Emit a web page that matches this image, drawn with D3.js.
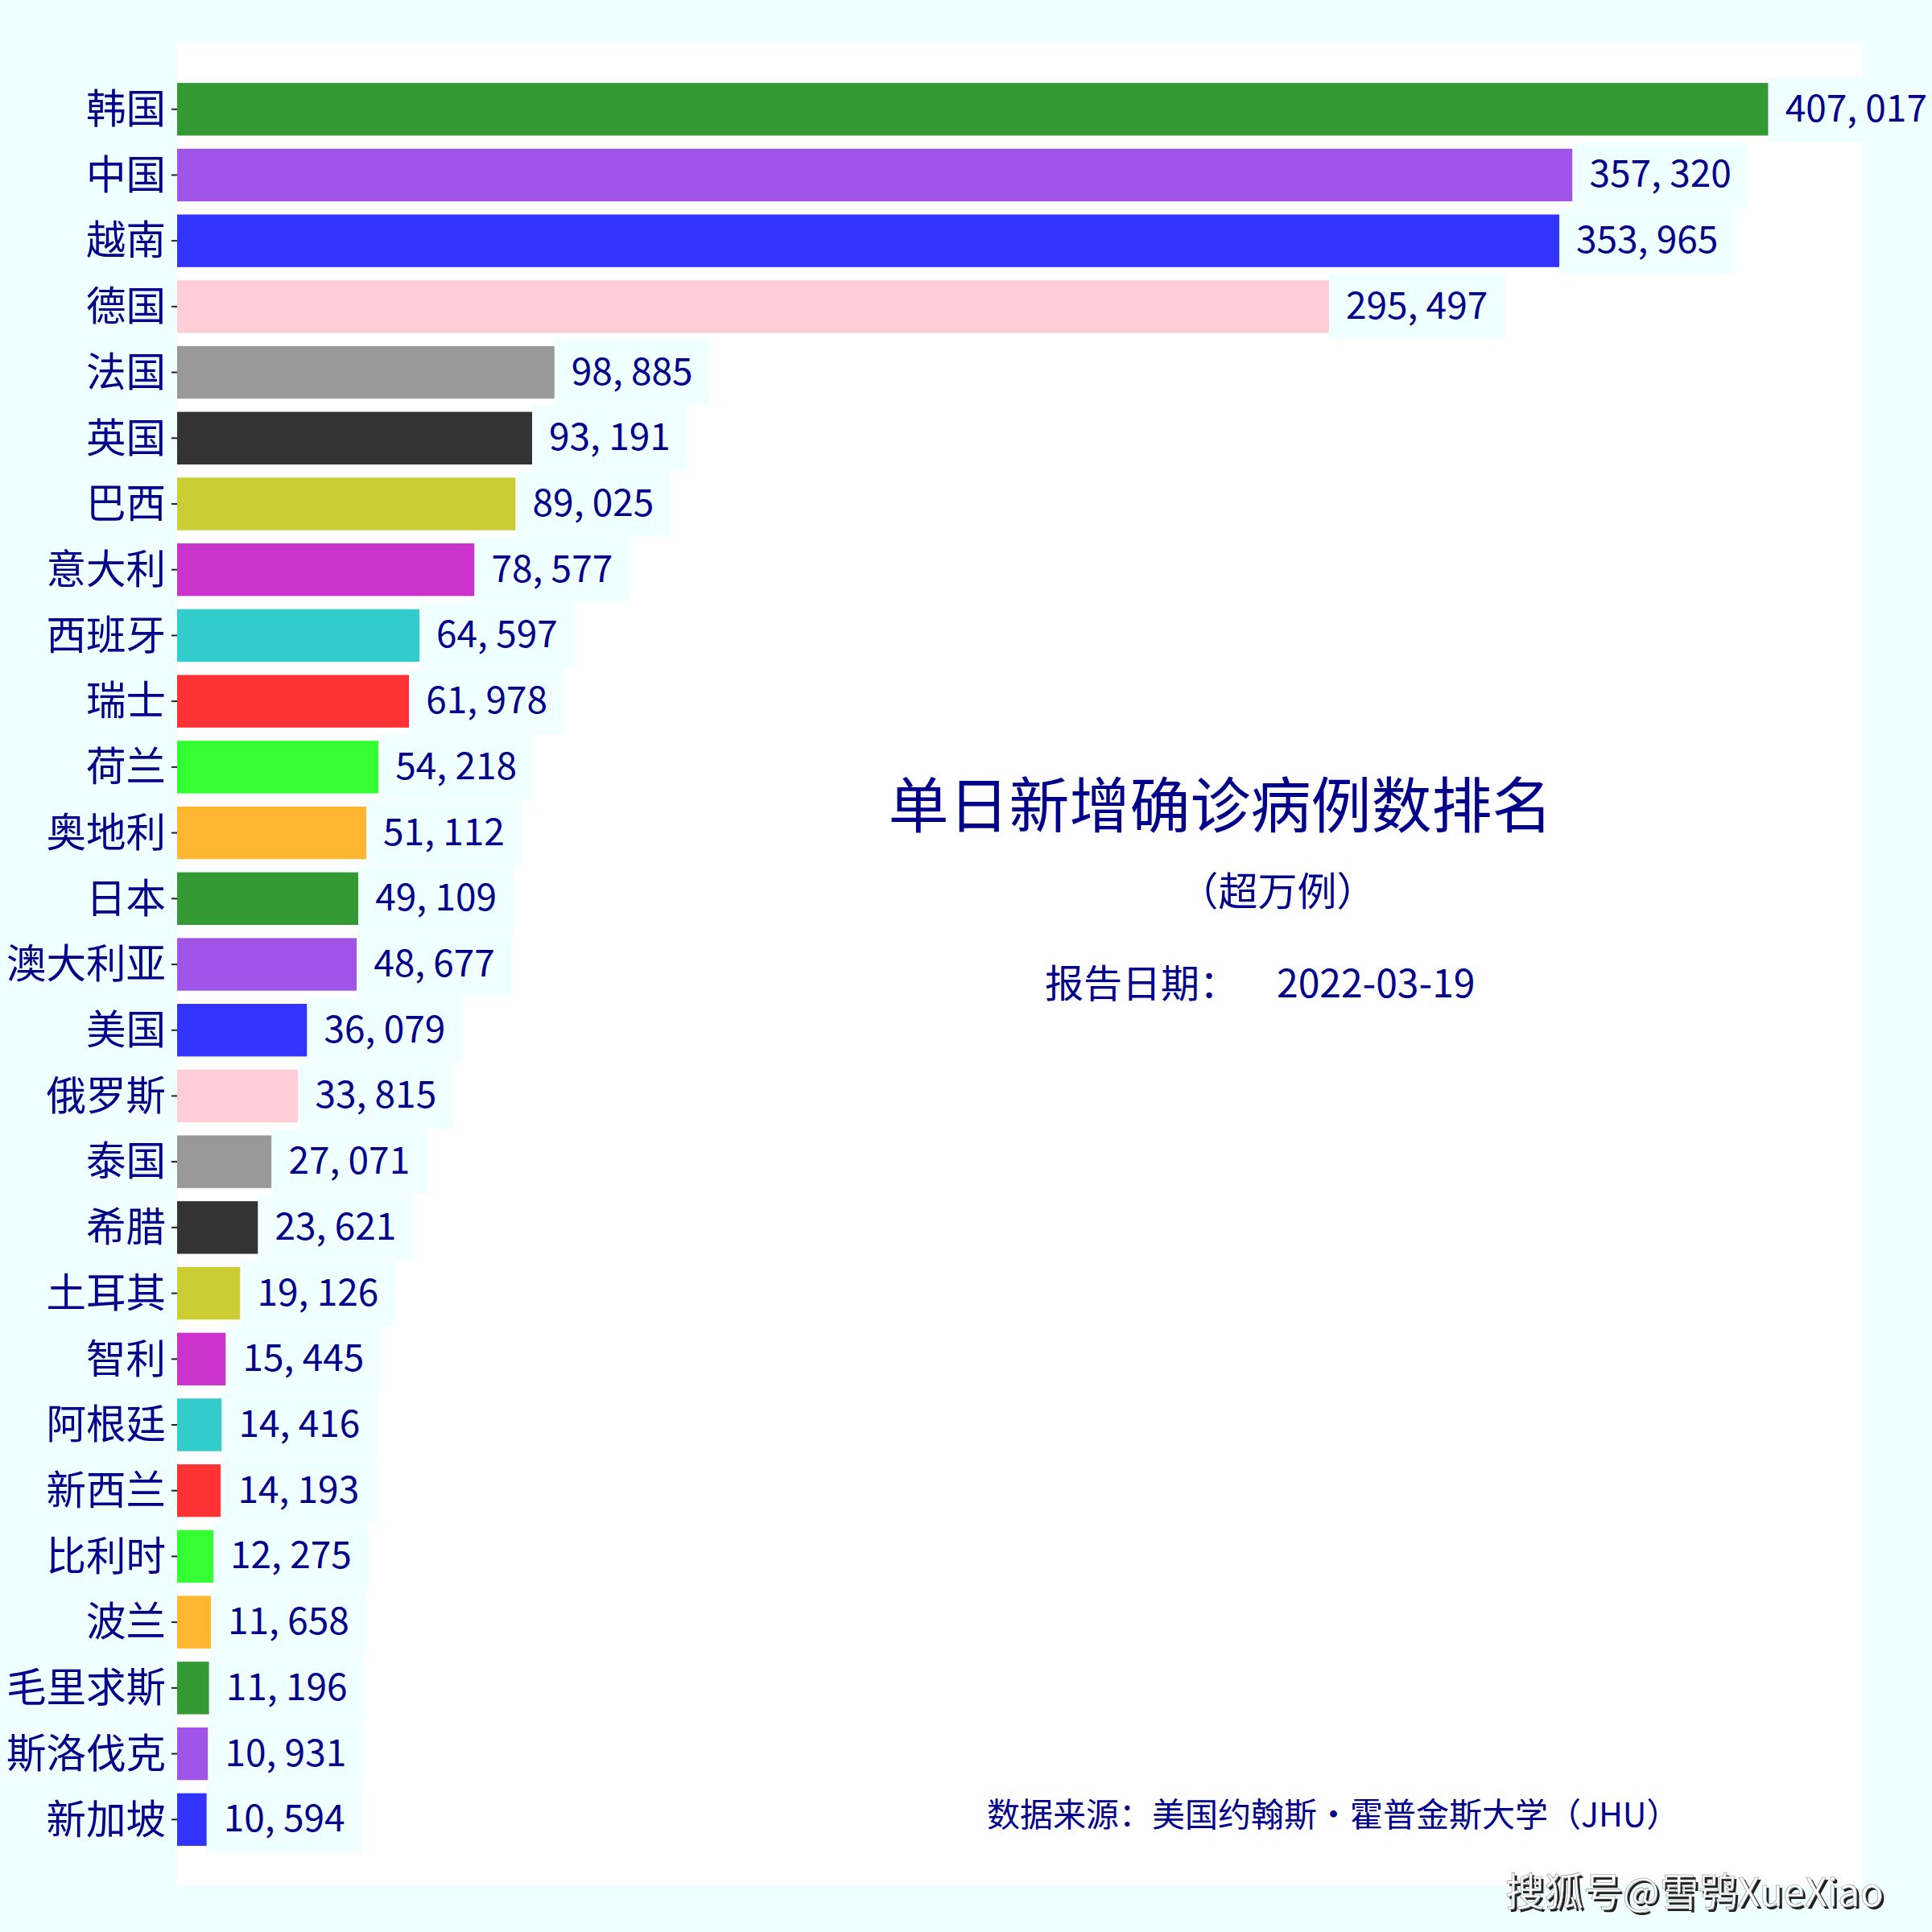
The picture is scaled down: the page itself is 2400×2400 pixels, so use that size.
<!DOCTYPE html>
<html><head><meta charset="utf-8">
<script src="https://cdn.jsdelivr.net/npm/d3@7"></script>
<style>html,body{margin:0;padding:0;background:#F0FFFF;} svg{display:block}</style>
</head><body>
<svg id="chart" width="2400" height="2400"></svg>
<script>
const countries = ["韩国","中国","越南","德国","法国","英国","巴西","意大利","西班牙","瑞士","荷兰","奥地利","日本","澳大利亚","美国","俄罗斯","泰国","希腊","土耳其","智利","阿根廷","新西兰","比利时","波兰","毛里求斯","斯洛伐克","新加坡"];
const cases = [407017,357320,353965,295497,98885,93191,89025,78577,64597,61978,54218,51112,49109,48677,36079,33815,27071,23621,19126,15445,14416,14193,12275,11658,11196,10931,10594];
const barColors = ["#008000","#8A2BE2","#0000FF","#FFC0CB","#808080","#000000","#BFBF00","#BF00BF","#00BFBF","#FF0000","#00FF00","#FFA500"];
const title = "单日新增确诊病例数排名";
const subtitle = "（超万例）";
const dateLabel = "报告日期：";
const reportDate = "2022-03-19";
const source = "数据来源：美国约翰斯・霍普金斯大学（JHU）";
const watermark = "搜狐号@雪鸮XueXiao";

const FONT = "'Noto Sans CJK SC','Noto Sans',sans-serif";
const INK = "#00008B";
const svg = d3.select("#chart");
const plot = {left: 220, right: 2314, top: 54, bottom: 2342};

svg.append("rect").attr("x",0).attr("y",0).attr("width",2400).attr("height",2400).attr("fill","#F0FFFF");
svg.append("rect").attr("x",plot.left).attr("y",plot.top)
  .attr("width",plot.right-plot.left).attr("height",plot.bottom-plot.top).attr("fill","#FFFFFF");

// x axis starts slightly above zero (bars clipped at the plot's left edge)
const x = d3.scaleLinear().domain([3070, 431000]).range([plot.left, plot.right]);
const y = d3.scaleBand().domain(countries).range([plot.top, plot.bottom]).paddingInner(0.2).paddingOuter(0.6);

const data = countries.map((c,i)=>({c, v: cases[i], color: barColors[i % barColors.length]}));
const x0 = x(x.domain()[0]);

svg.append("g").selectAll("rect").data(data).join("rect")
  .attr("x", x0).attr("y", d=>y(d.c))
  .attr("width", d=>x(d.v)-x0).attr("height", y.bandwidth())
  .attr("fill", d=>d.color).attr("fill-opacity", 0.8);

// y axis
const yAxis = d3.axisLeft(y).tickSize(7).tickPadding(7);
const gy = svg.append("g").attr("transform",`translate(${plot.left},0)`).call(yAxis);
gy.select(".domain").remove();
gy.selectAll(".tick line").attr("stroke","#222").attr("stroke-width",2);
gy.selectAll(".tick text").attr("fill",INK).attr("font-family",FONT).attr("font-size",49.5).attr("dy","0.35em");

// value labels
const fmt = d3.format(",");
const lab = svg.append("g").selectAll("g").data(data).join("g");
lab.each(function(d){
  const g = d3.select(this);
  const cy = y(d.c) + y.bandwidth()/2;
  const bx = x(d.v);
  const box = g.append("rect").attr("fill","#F0FFFF");
  const t = g.append("text").attr("x", bx+21).attr("y", cy-5)
    .attr("dominant-baseline","central")
    .attr("font-family",FONT).attr("font-size",46).attr("fill",INK)
    .text(fmt(d.v).replace(/,/g,", "));
  const w = t.node().getComputedTextLength();
  box.attr("x", bx).attr("y", cy-40.5).attr("width", w+42).attr("height", 81);
});

// titles
svg.append("text").attr("x",1516).attr("y",995).attr("text-anchor","middle").attr("dominant-baseline","central")
  .attr("font-family",FONT).attr("font-size",75).attr("fill",INK).text(title);
svg.append("text").attr("x",1587).attr("y",1103).attr("text-anchor","middle").attr("dominant-baseline","central")
  .attr("font-family",FONT).attr("font-size",49).attr("fill",INK).text(subtitle);
const dt = svg.append("text").attr("y",1218).attr("dominant-baseline","central")
  .attr("font-family",FONT).attr("font-size",48).attr("fill",INK);
dt.append("tspan").attr("x",1298).text(dateLabel);
dt.append("tspan").attr("x",1586).text(reportDate);

svg.append("text").attr("x",1226).attr("y",2251).attr("dominant-baseline","central")
  .attr("font-family",FONT).attr("font-size",41).attr("fill",INK).text(source);

// watermark
svg.append("text").attr("x",1873).attr("y",2350).attr("dominant-baseline","central")
  .attr("font-family",FONT).attr("font-size",48.5).attr("fill","#222").text(watermark);
svg.append("text").attr("x",1870).attr("y",2347).attr("dominant-baseline","central")
  .attr("font-family",FONT).attr("font-size",48.5).attr("fill","#FFFFFF")
  .attr("stroke","#888").attr("stroke-width",0.6).text(watermark);
</script>
</body></html>
